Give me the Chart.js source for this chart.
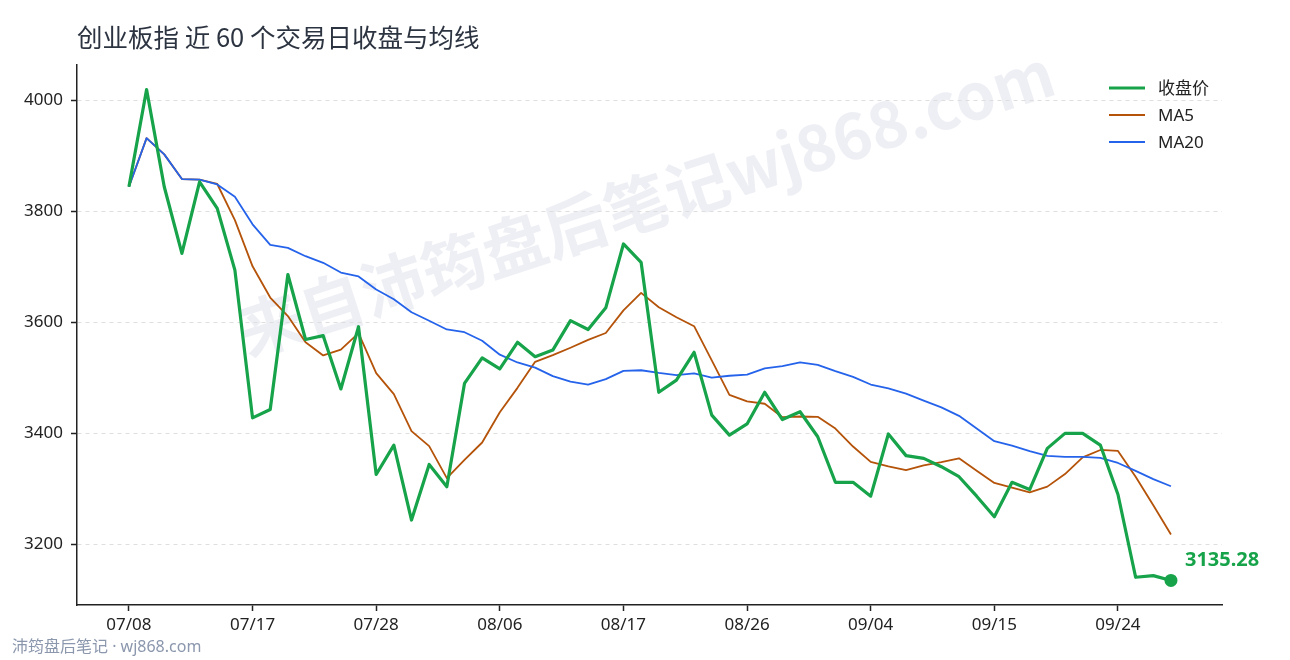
<!DOCTYPE html>
<html>
<head>
<meta charset="utf-8">
<script src="https://cdn.jsdelivr.net/npm/chart.js@4.4.1/dist/chart.umd.min.js"></script>
<style>
html,body{margin:0;padding:0;background:#fff;}
#wrap{width:1290px;height:660px;position:relative;}
</style>
</head>
<body>
<div id="wrap"><canvas id="c"></canvas></div>
<script>
const titleText = '创业板指 近 60 个交易日收盘与均线';
const labels = ['07/08','07/09','07/10','07/13','07/14','07/15','07/16','07/17','07/20','07/21',
'07/22','07/23','07/24','07/27','07/28','07/29','07/30','07/31','08/03','08/04',
'08/05','08/06','08/07','08/10','08/11','08/12','08/13','08/14','08/17','08/18',
'08/19','08/20','08/21','08/24','08/25','08/26','08/27','08/28','08/31','09/01',
'09/02','09/03','09/04','09/07','09/08','09/09','09/10','09/11','09/14','09/15',
'09/16','09/17','09/18','09/21','09/22','09/23','09/24','09/25','09/28','09/29'];
const closeVals = [3844,4019,3844,3724,3853,3805,3694,3428,3443,3686,
3569,3576,3480,3592,3326,3379,3244,3344,3304,3490,
3536,3516,3564,3538,3550,3603,3587,3626,3741,3708,
3474,3496,3546,3433,3397,3417,3474,3425,3439,3394,
3312,3312,3287,3399,3360,3355,3340,3322,3287,3250,
3312,3299,3373,3400,3400,3379,3290,3141,3144,3135.28];
const ma5Vals = [3844,3931.5,3902.3,3857.8,3856.8,3849,3784,3700.8,3644.6,3611.2,
3564,3540.4,3550.8,3580.6,3508.6,3470.6,3404.2,3377,3319.4,3352.2,
3383.6,3438,3482,3528.8,3540.8,3554.2,3568.4,3580.8,3621.4,3653,
3627.2,3609,3593,3531.4,3469.2,3457.8,3453.4,3429.2,3430.4,3429.8,
3408.8,3376.4,3348.8,3340.8,3334,3342.6,3348.2,3355.2,3332.8,3310.8,
3302.2,3294,3304.2,3326.8,3356.8,3370.2,3368.4,3322,3270.8,3217.9];
const ma20Vals = [3844,3931.5,3902.3,3857.8,3856.8,3848.2,3826.1,3776.4,3739.3,3734,
3719,3707.1,3689.6,3682.6,3658.9,3641.4,3618,3602.8,3587.1,3582.2,
3566.8,3541.7,3527.7,3518.4,3503.2,3493.1,3487.8,3497.7,3512.6,3513.7,
3508.9,3504.9,3508.2,3500.3,3503.8,3505.7,3517.2,3521.3,3528,3523.2,
3512,3501.8,3488,3481,3471.5,3459.1,3446.8,3431.6,3408.9,3386,
3377.9,3368,3359.4,3357.7,3357.9,3356,3346.8,3332.6,3317.8,3304.9];
const yTickVals = [3200,3400,3600,3800,4000];
const xTickIdx = [0,7,14,21,28,35,42,49,56];
const seriesNames = ['收盘价','MA5','MA20'];
const seriesColors = ['#16a34a','#b45309','#2563eb'];
const footerText = '沛筠盘后笔记 · wj868.com';
const watermarkText = '来自沛筠盘后笔记wj868.com';

const FONT = '"Noto Sans","Noto Sans CJK SC",sans-serif';
const CJK = '"Noto Sans CJK SC","Noto Sans",sans-serif';

const allVals = closeVals.concat(ma5Vals, ma20Vals);
const vMin = Math.min(...allVals), vMax = Math.max(...allVals);
const pad = (vMax - vMin) * 0.05;
const lastIdx = closeVals.length - 1;

const toXY = arr => arr.map((v, i) => ({x: i, y: v}));

const decor = {
  id: 'decor',
  beforeDraw(chart) {
    const ctx = chart.ctx;
    ctx.save();
    ctx.fillStyle = '#fff';
    ctx.fillRect(0, 0, chart.width, chart.height);
    // watermark
    ctx.translate(646, 202);
    ctx.rotate(-18 * Math.PI / 180);
    ctx.font = 'bold 64px ' + CJK;
    ctx.fillStyle = 'rgba(120,130,170,0.13)';
    ctx.textAlign = 'center';
    ctx.textBaseline = 'middle';
    ctx.fillText(watermarkText, 0, 0);
    ctx.restore();
  },
  afterDraw(chart) {
    const ctx = chart.ctx;
    ctx.save();
    // title
    ctx.font = '25.5px ' + CJK;
    ctx.fillStyle = '#2d3441';
    ctx.textAlign = 'left';
    ctx.textBaseline = 'middle';
    ctx.fillText(titleText, 77, 37);
    // legend
    const widths = [3, 1.8, 1.8];
    seriesNames.forEach((n, k) => {
      const y = 88 + k * 27;
      ctx.strokeStyle = seriesColors[k];
      ctx.lineWidth = widths[k];
      ctx.beginPath();
      ctx.moveTo(1109, y);
      ctx.lineTo(1145, y);
      ctx.stroke();
      ctx.fillStyle = '#222';
      ctx.font = '17px ' + FONT;
      ctx.textAlign = 'left';
      ctx.textBaseline = 'middle';
      ctx.fillText(n, 1158, y + 1);
    });
    // footer
    ctx.font = '16px ' + FONT;
    ctx.fillStyle = '#8b97ad';
    ctx.textAlign = 'left';
    ctx.textBaseline = 'middle';
    ctx.fillText(footerText, 12, 647);
    // last value annotation
    const xs = chart.scales.x, ys = chart.scales.y;
    const px = xs.getPixelForValue(lastIdx), py = ys.getPixelForValue(closeVals[lastIdx]);
    ctx.font = 'bold 20px ' + FONT;
    ctx.fillStyle = seriesColors[0];
    ctx.textAlign = 'left';
    ctx.textBaseline = 'middle';
    ctx.fillText(closeVals[lastIdx].toFixed(2), px + 14, py - 20);
    ctx.restore();
  }
};

new Chart(document.getElementById('c'), {
  type: 'line',
  data: {
    datasets: [
      {label: seriesNames[0], data: toXY(closeVals), borderColor: seriesColors[0], backgroundColor: seriesColors[0],
       borderWidth: 3.2, order: 0, tension: 0, borderJoinStyle: 'round',
       pointRadius: c => c.dataIndex === lastIdx ? 6.5 : 0, pointHoverRadius: 0, pointBorderWidth: 0},
      {label: seriesNames[1], data: toXY(ma5Vals), borderColor: seriesColors[1], borderWidth: 1.8, order: 2,
       tension: 0, pointRadius: 0, borderJoinStyle: 'round'},
      {label: seriesNames[2], data: toXY(ma20Vals), borderColor: seriesColors[2], borderWidth: 1.8, order: 1,
       tension: 0, pointRadius: 0, borderJoinStyle: 'round'}
    ]
  },
  options: {
    responsive: true,
    maintainAspectRatio: false,
    animation: false,
    events: [],
    layout: {padding: {left: 0, top: 65, right: 68, bottom: 0}},
    plugins: {legend: {display: false}, tooltip: {enabled: false}, title: {display: false}},
    scales: {
      x: {
        type: 'linear',
        min: -2.94,
        max: 61.89,
        afterBuildTicks: s => { s.ticks = xTickIdx.map(v => ({value: v})); },
        afterFit: s => { s.height = 55; },
        ticks: {callback: v => labels[v] || '', color: '#222', font: {family: FONT, size: 17}, padding: 4, maxRotation: 0, autoSkip: false},
        grid: {drawOnChartArea: false, drawTicks: true, tickLength: 6, tickColor: '#222', tickWidth: 1.5},
        border: {display: true, color: '#222', width: 1.5}
      },
      y: {
        min: vMin - pad,
        max: vMax + pad,
        afterBuildTicks: s => { s.ticks = yTickVals.map(v => ({value: v})); },
        afterFit: s => { s.width = 77; },
        ticks: {callback: v => String(v), color: '#222', font: {family: FONT, size: 17}, padding: 8},
        grid: {color: '#dedede', lineWidth: 1, drawTicks: true, tickLength: 6, tickColor: '#222', tickWidth: 1.5, tickBorderDash: [1, 0]},
        border: {display: true, color: '#222', width: 1.5, dash: [4, 4]}
      }
    }
  },
  plugins: [decor]
});
</script>
</body>
</html>
